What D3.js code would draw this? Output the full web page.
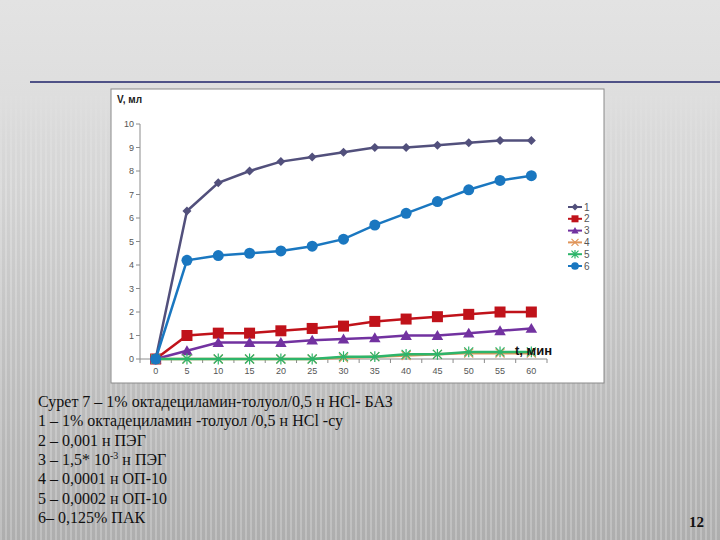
<!DOCTYPE html>
<html>
<head>
<meta charset="utf-8">
<script src="https://cdn.jsdelivr.net/npm/d3@7"></script>
<style>
  body { margin: 0; padding: 0; }
  svg { display: block; }
</style>
</head>
<body>
<div id="chart"></div>
<script>
// time, min
var times = [0, 5, 10, 15, 20, 25, 30, 35, 40, 45, 50, 55, 60];

// V, ml for each curve
var s1 = [0, 6.3, 7.5, 8.0, 8.4, 8.6, 8.8, 9.0, 9.0, 9.1, 9.2, 9.3, 9.3];
var s2 = [0, 1.0, 1.1, 1.1, 1.2, 1.3, 1.4, 1.6, 1.7, 1.8, 1.9, 2.0, 2.0];
var s3 = [0, 0.35, 0.7, 0.7, 0.7, 0.8, 0.85, 0.9, 1.0, 1.0, 1.1, 1.2, 1.3];
var s4 = [0, 0, 0, 0, 0, 0, 0.05, 0.1, 0.15, 0.2, 0.25, 0.25, 0.25];
var s5 = [0, 0, 0, 0, 0, 0, 0.1, 0.1, 0.2, 0.2, 0.3, 0.3, 0.3];
var s6 = [0, 4.2, 4.4, 4.5, 4.6, 4.8, 5.1, 5.7, 6.2, 6.7, 7.2, 7.6, 7.8];

var seriesNames = ["1", "2", "3", "4", "5", "6"];
var yTicks = [0, 1, 2, 3, 4, 5, 6, 7, 8, 9, 10];

var caption = [
  "Сурет 7 – 1% октадециламин-толуол/0,5 н HCl- БАЗ",
  "1 – 1% октадециламин -толуол /0,5 н HCl -су",
  "2 – 0,001 н ПЭГ",
  "3 – 1,5* 10",
  "4 – 0,0001 н ОП-10",
  "5 – 0,0002 н ОП-10",
  "6– 0,125% ПАК"
];

var series = [
  {name: "1", values: s1, color: "#52507c", marker: "diamond"},
  {name: "2", values: s2, color: "#c0121a", marker: "square"},
  {name: "3", values: s3, color: "#7232a0", marker: "triangle"},
  {name: "4", values: s4, color: "#e0955a", marker: "cross"},
  {name: "5", values: s5, color: "#2db56a", marker: "star"},
  {name: "6", values: s6, color: "#1a77c0", marker: "circle"}
];

var W = 720, H = 540;
var svg = d3.select("#chart").append("svg")
  .attr("width", W).attr("height", H);

// slide background
var defs = svg.append("defs");
var grad = defs.append("linearGradient").attr("id", "bg")
  .attr("x1", 0).attr("y1", 0).attr("x2", 0).attr("y2", 1);
grad.append("stop").attr("offset", "0%").attr("stop-color", "#e3e3e3");
grad.append("stop").attr("offset", "18%").attr("stop-color", "#dedede");
grad.append("stop").attr("offset", "60%").attr("stop-color", "#c4c4c4");
grad.append("stop").attr("offset", "100%").attr("stop-color", "#aeaeae");

var pat = defs.append("pattern").attr("id", "stripes")
  .attr("width", 5).attr("height", 10).attr("patternUnits", "userSpaceOnUse");
pat.append("rect").attr("x", 0).attr("y", 0).attr("width", 2).attr("height", 10)
  .attr("fill", "#ffffff").attr("opacity", 0.22);

var fade = defs.append("linearGradient").attr("id", "fade")
  .attr("x1", 0).attr("y1", 0).attr("x2", 0).attr("y2", 1);
fade.append("stop").attr("offset", "0%").attr("stop-color", "#fff").attr("stop-opacity", 0);
fade.append("stop").attr("offset", "15%").attr("stop-color", "#fff").attr("stop-opacity", 0);
fade.append("stop").attr("offset", "35%").attr("stop-color", "#fff").attr("stop-opacity", 1);
fade.append("stop").attr("offset", "100%").attr("stop-color", "#fff").attr("stop-opacity", 1);
var mask = defs.append("mask").attr("id", "stripeMask");
mask.append("rect").attr("width", W).attr("height", H).attr("fill", "url(#fade)");

svg.append("rect").attr("width", W).attr("height", H).attr("fill", "url(#bg)");
svg.append("rect").attr("width", W).attr("height", H)
  .attr("fill", "url(#stripes)").attr("mask", "url(#stripeMask)");

// title rule
svg.append("line")
  .attr("x1", 30).attr("x2", W).attr("y1", 82).attr("y2", 82)
  .attr("stroke", "#4f5287").attr("stroke-width", 2);

// chart box
var box = {x: 111, y: 89, w: 493, h: 294};
svg.append("rect")
  .attr("x", box.x).attr("y", box.y).attr("width", box.w).attr("height", box.h)
  .attr("fill", "#ffffff").attr("stroke", "#8a8a8a").attr("stroke-width", 1);

var x = d3.scalePoint().domain(times).range([140, 547]).padding(0.5);
var step = x.step();
var y = d3.scaleLinear().domain([0, 10]).range([359, 124]);

var axisColor = "#8c8c8c";
var g = svg.append("g");

// y axis
g.append("line").attr("x1", 140).attr("x2", 140)
  .attr("y1", y(0)).attr("y2", y(10)).attr("stroke", axisColor);
g.selectAll(".ytick").data(yTicks).enter().append("line")
  .attr("x1", 136).attr("x2", 140)
  .attr("y1", d => y(d)).attr("y2", d => y(d)).attr("stroke", axisColor);
g.selectAll(".ylab").data(yTicks).enter().append("text")
  .attr("x", 134).attr("y", d => y(d)).attr("dy", "0.35em")
  .attr("text-anchor", "end")
  .attr("font-family", "Liberation Sans, Arial, sans-serif")
  .attr("font-size", 9).attr("fill", "#555")
  .text(d => d);

// x axis
g.append("line").attr("x1", 140).attr("x2", 547)
  .attr("y1", y(0)).attr("y2", y(0)).attr("stroke", axisColor);
var bounds = times.map(t => x(t) - step / 2).concat([x(times[times.length - 1]) + step / 2]);
g.selectAll(".xtick").data(bounds).enter().append("line")
  .attr("x1", d => d).attr("x2", d => d)
  .attr("y1", y(0)).attr("y2", y(0) + 4).attr("stroke", axisColor);
g.selectAll(".xlab").data(times).enter().append("text")
  .attr("x", d => x(d)).attr("y", y(0) + 15)
  .attr("text-anchor", "middle")
  .attr("font-family", "Liberation Sans, Arial, sans-serif")
  .attr("font-size", 9).attr("fill", "#555")
  .text(d => d);

// markers
function drawMarker(sel, type, color, size) {
  var s = size;
  if (type === "diamond") {
    sel.append("path").attr("d", `M0,${-s}L${s},0L0,${s}L${-s},0Z`).attr("fill", color);
  } else if (type === "square") {
    sel.append("rect").attr("x", -s).attr("y", -s).attr("width", 2 * s).attr("height", 2 * s)
      .attr("fill", color);
  } else if (type === "triangle") {
    sel.append("path").attr("d", `M0,${-s}L${s * 1.05},${s * 0.8}L${-s * 1.05},${s * 0.8}Z`).attr("fill", color);
  } else if (type === "cross") {
    sel.append("path").attr("d", `M${-s},${-s}L${s},${s}M${-s},${s}L${s},${-s}`)
      .attr("stroke", color).attr("stroke-width", 1.2);
  } else if (type === "star") {
    sel.append("path").attr("d", `M${-s},${-s}L${s},${s}M${-s},${s}L${s},${-s}M0,${-s * 1.2}L0,${s * 1.2}`)
      .attr("stroke", color).attr("stroke-width", 1.2);
  } else if (type === "circle") {
    sel.append("circle").attr("r", s * 1.1).attr("fill", color);
  }
}

var line = d3.line().x((d, i) => x(times[i])).y(d => y(d));
var sizes = {diamond: 4.5, square: 5.5, triangle: 5.5, cross: 4.5, star: 4.5, circle: 5};

series.forEach(function(sr) {
  var sg = svg.append("g");
  sg.append("path").datum(sr.values)
    .attr("d", line).attr("fill", "none")
    .attr("stroke", sr.color).attr("stroke-width", 2.5);
  sg.selectAll("g.m").data(sr.values).enter().append("g")
    .attr("transform", (d, i) => "translate(" + x(times[i]) + "," + y(d) + ")")
    .each(function() { drawMarker(d3.select(this), sr.marker, sr.color, sizes[sr.marker]); });
});

// axis titles (on top of the curves)
svg.append("text").attr("x", 117).attr("y", 103)
  .attr("font-family", "Liberation Sans, Arial, sans-serif")
  .attr("font-size", 10).attr("font-weight", "bold").attr("fill", "#222")
  .text("V, мл");
svg.append("text").attr("x", 515).attr("y", 355)
  .attr("font-family", "Liberation Sans, Arial, sans-serif")
  .attr("font-size", 13).attr("font-weight", "bold").attr("fill", "#111")
  .text("t, мин");

// legend
var leg = svg.append("g").attr("transform", "translate(568,207)");
series.forEach(function(sr, i) {
  var lg = leg.append("g").attr("transform", "translate(0," + (i * 11.8) + ")");
  lg.append("line").attr("x1", 0).attr("x2", 14).attr("y1", 0).attr("y2", 0)
    .attr("stroke", sr.color).attr("stroke-width", 2);
  var mg = lg.append("g").attr("transform", "translate(7,0)");
  drawMarker(mg, sr.marker, sr.color, 3.5);
  lg.append("text").attr("x", 16).attr("y", 0).attr("dy", "0.35em")
    .attr("font-family", "Liberation Sans, Arial, sans-serif")
    .attr("font-size", 10).attr("fill", "#555")
    .text(sr.name);
});

// caption
var cap = svg.append("g")
  .attr("font-family", "Liberation Serif, Times New Roman, serif")
  .attr("font-size", 16).attr("fill", "#111");
caption.forEach(function(t, i) {
  var tx = cap.append("text").attr("x", 38).attr("y", 407 + i * 19.3).text(t);
  if (i === 3) {
    tx.append("tspan").attr("dy", -6).attr("font-size", 10).text("-3");
    tx.append("tspan").attr("dy", 6).text(" н ПЭГ");
  }
});

svg.append("text").attr("x", 704).attr("y", 527).attr("text-anchor", "end")
  .attr("font-family", "Liberation Serif, Times New Roman, serif")
  .attr("font-size", 15).attr("font-weight", "bold").attr("fill", "#111")
  .text("12");
</script>
</body>
</html>
